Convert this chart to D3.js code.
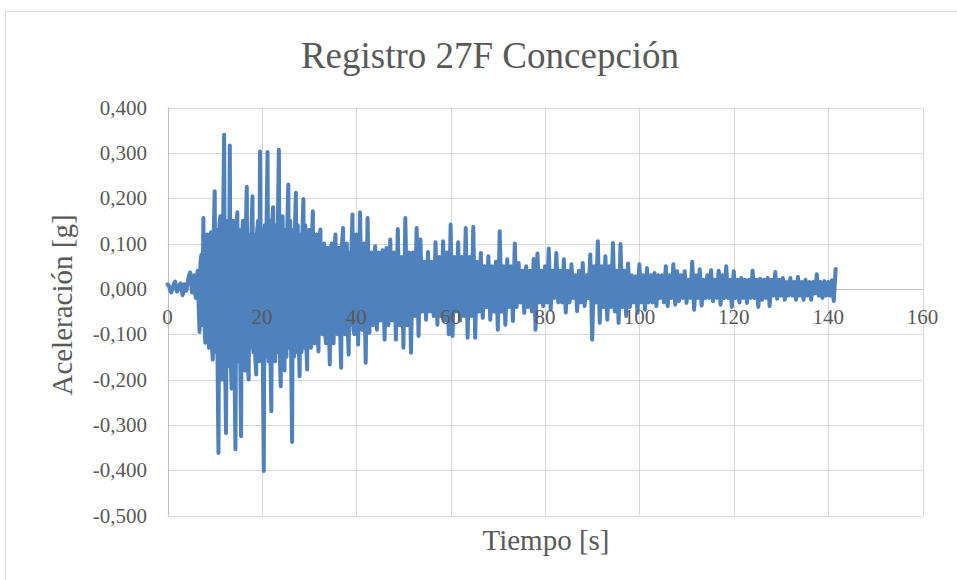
<!DOCTYPE html>
<html>
<head>
<meta charset="utf-8">
<script src="https://cdn.jsdelivr.net/npm/d3@7"></script>
<style>
  html, body { margin: 0; padding: 0; background: #fff; }
  svg { display: block; }
</style>
</head>
<body>
<svg id="chart" width="957" height="580"></svg>
<script>
// ---- Data: acceleration [g] per 20 s segment; each segment sampled every segmentDt seconds ----
const seg000 = [0.010, 0.008, 0.004, -0.004, -0.008, -0.002, 0.006, 0.012, 0.016, 0.004,
  -0.006, -0.002, 0.004, 0.010, 0.012, 0.000, -0.014, -0.004, 0.010, 0.004,
  -0.004, 0.010, 0.022, 0.030, 0.036, 0.012, -0.008, 0.012, 0.030, 0.004,
  -0.020, 0.020, 0.040, -0.040, -0.095, 0.060, 0.075, -0.080, 0.156, -0.060,
  -0.119, 0.080, 0.120, -0.100, -0.130, 0.110, 0.125, -0.120, -0.156, 0.120,
  0.215, -0.140, 0.130, -0.150, -0.362, 0.140, 0.160, -0.150, -0.200, 0.150,
  0.340, -0.150, -0.318, 0.140, 0.150, -0.170, 0.316, -0.160, -0.220, 0.140,
  0.150, -0.170, -0.354, 0.130, 0.169, -0.160, 0.130, -0.150, -0.325, 0.120,
  0.150, -0.150, -0.180, 0.130, 0.225, -0.160, -0.200, 0.120, -0.130, 0.130,
  0.204, -0.140, 0.120, -0.150, -0.189, 0.130, 0.150, -0.160, 0.303, -0.140];
const seg020 = [0.130, -0.150, -0.402, 0.140, -0.150, 0.150, 0.302, -0.160, 0.150, -0.140,
  -0.270, 0.150, 0.180, -0.150, -0.160, 0.140, -0.140, 0.150, 0.307, -0.150,
  -0.215, 0.140, 0.160, -0.140, -0.180, 0.130, -0.150, 0.140, 0.230, -0.130,
  0.150, -0.140, -0.338, 0.130, -0.150, 0.130, 0.212, -0.140, 0.140, -0.120,
  -0.193, 0.120, -0.140, 0.130, 0.198, -0.130, 0.140, -0.120, -0.178, 0.120,
  0.130, -0.120, -0.130, 0.110, 0.171, -0.110, -0.120, 0.100, 0.120, -0.100,
  -0.138, 0.100, 0.131, -0.090, -0.100, 0.090, 0.100, -0.100, -0.120, 0.090,
  0.090, -0.090, -0.167, 0.090, 0.100, -0.100, -0.120, 0.090, 0.120, -0.090,
  -0.100, 0.090, 0.090, -0.100, -0.174, 0.100, 0.134, -0.090, -0.100, 0.090,
  0.100, -0.090, -0.145, 0.080, -0.080, 0.090, 0.164, -0.090, -0.100, 0.100];
const seg040 = [0.120, -0.123, 0.169, -0.090, 0.100, -0.163, 0.156, -0.097, 0.080, -0.080,
  0.094, -0.090, 0.080, -0.070, 0.085, -0.112, 0.090, -0.080, 0.109, -0.070,
  0.080, -0.112, 0.132, -0.080, 0.070, -0.130, 0.156, -0.080, 0.080, -0.141,
  0.080, -0.060, 0.134, -0.104, 0.109, -0.050, 0.060, -0.068, 0.081, -0.050,
  0.060, -0.060, 0.103, -0.079, 0.070, -0.060, 0.105, -0.070, 0.080, -0.100];
const seg060 = [0.142, -0.104, 0.070, -0.050, 0.103, -0.070, 0.070, -0.060, 0.134, -0.108,
  0.070, -0.060, 0.137, -0.108, 0.060, -0.050, 0.079, -0.064, 0.050, -0.040,
  0.072, -0.068, 0.050, -0.050, 0.060, -0.090, 0.127, -0.050, 0.050, -0.079,
  0.065, -0.040, 0.050, -0.071, 0.100, -0.040, 0.057, -0.030, 0.040, -0.053,
  0.050, -0.040, 0.040, -0.050, 0.066, -0.090, 0.078, -0.030, 0.040, -0.038];
const seg080 = [0.050, -0.030, 0.089, -0.046, 0.040, -0.020, 0.079, -0.030, 0.040, -0.030,
  0.065, -0.052, 0.040, -0.030, 0.054, -0.020, 0.030, -0.049, 0.040, -0.030,
  0.057, -0.038, 0.030, -0.020, 0.076, -0.112, 0.050, -0.030, 0.105, -0.075,
  0.050, -0.040, 0.072, -0.068, 0.050, -0.040, 0.101, -0.050, 0.040, -0.075,
  0.099, -0.040, 0.040, -0.060, 0.056, -0.040, 0.030, -0.030, 0.028, -0.053];
const seg100 = [0.054, -0.030, 0.030, -0.046, 0.046, -0.030, 0.030, -0.030, 0.035, -0.038,
  0.030, -0.020, 0.030, -0.030, 0.050, -0.038, 0.030, -0.020, 0.054, -0.035,
  0.039, -0.027, 0.030, -0.020, 0.039, -0.031, 0.020, -0.020, 0.060, -0.046,
  0.030, -0.020, 0.043, -0.037, 0.020, -0.020, 0.030, -0.020, 0.041, -0.027,
  0.020, -0.020, 0.040, -0.035, 0.030, -0.020, 0.050, -0.020, 0.020, -0.040];
const seg120 = [0.039, -0.020, 0.020, -0.030, 0.024, -0.020, 0.020, -0.031, 0.020, -0.020,
  0.040, -0.020, 0.020, -0.040, 0.022, -0.024, 0.020, -0.020, 0.024, -0.038,
  0.020, -0.015, 0.037, -0.022, 0.020, -0.015, 0.024, -0.024, 0.015, -0.015,
  0.024, -0.015, 0.015, -0.024, 0.026, -0.015, 0.015, -0.024, 0.020, -0.015,
  0.015, -0.024, 0.015, -0.010, 0.032, -0.015, 0.015, -0.020, 0.017, -0.015];
const seg140 = [0.015, -0.015, 0.019, -0.027, 0.044];
const segmentStarts = [0, 20, 40, 60, 80, 100, 120, 140];
const segmentDt = [0.2, 0.2, 0.4, 0.4, 0.4, 0.4, 0.4, 0.4];
const segments = [seg000, seg020, seg040, seg060, seg080, seg100, seg120, seg140];

const xTickValues = [0, 20, 40, 60, 80, 100, 120, 140, 160];
const yTickValues = [-0.5, -0.4, -0.3, -0.2, -0.1, 0, 0.1, 0.2, 0.3, 0.4];
const titleText = "Registro 27F Concepción";
const xTitle = "Tiempo [s]";
const yTitle = "Aceleración [g]";

// ---- Build series ----
const series = [];
segments.forEach((seg, k) => {
  seg.forEach((v, i) => series.push({ t: segmentStarts[k] + i * segmentDt[k], a: v }));
});

// ---- Layout ----
const FONT = "'Liberation Serif', 'Times New Roman', serif";
const TXT = "#595959";
const svg = d3.select("#chart");
const plot = { left: 167.5, right: 922.5, top: 107.5, bottom: 515.5 };
const x = d3.scaleLinear().domain([0, 160]).range([plot.left, plot.right]);
const y = d3.scaleLinear().domain([-0.5, 0.4]).range([plot.bottom, plot.top]);
const loc = d3.formatLocale({ decimal: ",", thousands: ".", grouping: [3], currency: ["", ""], minus: "-" });
const fmtY = loc.format(".3f");

// chart border
svg.append("rect").attr("x", 5.5).attr("y", 11.5).attr("width", 980).attr("height", 600)
  .attr("fill", "#fff").attr("stroke", "#d9d9d9").attr("stroke-width", 1);

// gridlines
const grid = svg.append("g");
grid.selectAll("line.h").data(yTickValues).join("line")
  .attr("x1", plot.left).attr("x2", plot.right)
  .attr("y1", d => Math.round(y(d)) + 0.5).attr("y2", d => Math.round(y(d)) + 0.5)
  .attr("stroke", "#d9d9d9").attr("stroke-width", 1);
grid.selectAll("line.v").data(xTickValues).join("line")
  .attr("y1", plot.top).attr("y2", plot.bottom)
  .attr("x1", d => Math.round(x(d)) + 0.5).attr("x2", d => Math.round(x(d)) + 0.5)
  .attr("stroke", "#d9d9d9").attr("stroke-width", 1);

// axes lines
svg.append("line").attr("x1", Math.round(x(0)) + 0.5).attr("x2", Math.round(x(0)) + 0.5)
  .attr("y1", plot.top).attr("y2", plot.bottom).attr("stroke", "#bfbfbf").attr("stroke-width", 1);
svg.append("line").attr("x1", plot.left).attr("x2", plot.right)
  .attr("y1", Math.round(y(0)) + 0.5).attr("y2", Math.round(y(0)) + 0.5)
  .attr("stroke", "#bfbfbf").attr("stroke-width", 1);

// series line
const line = d3.line().x(d => x(d.t)).y(d => y(d.a));
svg.append("path").datum(series).attr("d", line)
  .attr("fill", "none").attr("stroke", "#4f81bd").attr("stroke-width", 4)
  .attr("stroke-linejoin", "round").attr("stroke-linecap", "round");

// y tick labels
svg.append("g").selectAll("text").data(yTickValues).join("text")
  .attr("x", 147).attr("y", d => y(d) + 7)
  .attr("text-anchor", "end")
  .style("font-family", FONT).style("font-size", "21px").style("fill", TXT)
  .text(d => fmtY(d));

// x tick labels
svg.append("g").selectAll("text").data(xTickValues).join("text")
  .attr("x", d => x(d)).attr("y", 324)
  .attr("text-anchor", "middle")
  .style("font-family", FONT).style("font-size", "21px").style("fill", TXT)
  .text(d => String(d));

// title
svg.append("text").attr("x", 490).attr("y", 68).attr("text-anchor", "middle")
  .style("font-family", FONT).style("font-size", "37px").style("fill", TXT)
  .text(titleText);

// axis titles
svg.append("text").attr("x", 546).attr("y", 550).attr("text-anchor", "middle")
  .style("font-family", FONT).style("font-size", "29px").style("fill", TXT)
  .text(xTitle);
svg.append("text").attr("transform", "translate(72,305) rotate(-90)").attr("text-anchor", "middle")
  .style("font-family", FONT).style("font-size", "29px").style("fill", TXT)
  .text(yTitle);
</script>
</body>
</html>
